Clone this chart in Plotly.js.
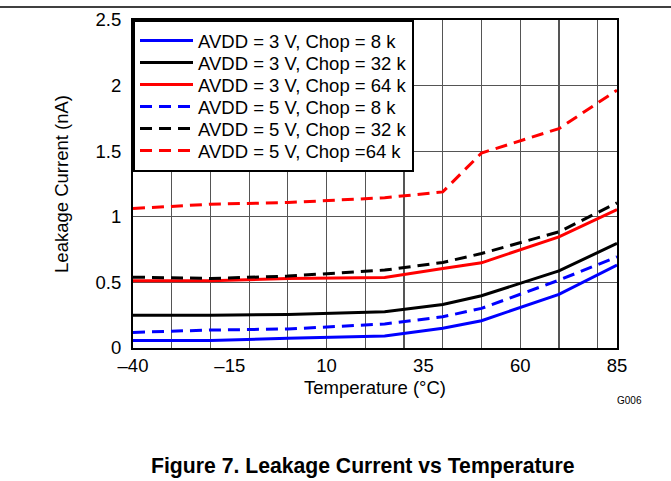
<!DOCTYPE html>
<html>
<head>
<meta charset="utf-8">
<script src="https://cdn.plot.ly/plotly-3.0.1.min.js"></script>
<style>
  html, body { margin: 0; padding: 0; background: #fff; }
  #chart { width: 671px; height: 481px; }
</style>
</head>
<body>
<div id="chart"></div>
<script>
// Temperature (°C)
const temps = [-40, -20, 0, 25, 40, 50, 70, 85];

// Leakage current (nA)
const avdd3_chop8  = [0.058, 0.058, 0.074, 0.091, 0.150, 0.208, 0.409, 0.632];
const avdd3_chop32 = [0.249, 0.249, 0.256, 0.276, 0.332, 0.398, 0.588, 0.797];
const avdd3_chop64 = [0.512, 0.512, 0.530, 0.538, 0.606, 0.649, 0.847, 1.055];
const avdd5_chop8  = [0.119, 0.137, 0.145, 0.183, 0.238, 0.302, 0.517, 0.695];
const avdd5_chop32 = [0.540, 0.530, 0.548, 0.594, 0.652, 0.720, 0.885, 1.106];
const avdd5_chop64 = [1.063, 1.096, 1.109, 1.145, 1.190, 1.486, 1.672, 1.965];

const seriesNames = [
  'AVDD = 3 V, Chop = 8 k',
  'AVDD = 3 V, Chop = 32 k',
  'AVDD = 3 V, Chop = 64 k',
  'AVDD = 5 V, Chop = 8 k',
  'AVDD = 5 V, Chop = 32 k',
  'AVDD = 5 V, Chop =64 k'
];

const xTickVals = [-40, -15, 10, 35, 60, 85];
const xTickText = ['\u201340', '\u201315', '10', '35', '60', '85'];
const xGridVals = [-30, -20, -10, 0, 10, 20, 30, 40, 50, 60, 70, 80];

const seriesData = [avdd3_chop8, avdd3_chop32, avdd3_chop64, avdd5_chop8, avdd5_chop32, avdd5_chop64];
const colors = ['#0000ff', '#000000', '#ff0000', '#0000ff', '#000000', '#ff0000'];
const dashes = ['solid', 'solid', 'solid', '12px,7px', '12px,7px', '12px,7px'];

const traces = seriesData.map((ys, i) => ({
  x: temps,
  y: ys,
  name: seriesNames[i],
  type: 'scatter',
  mode: 'lines',
  line: { color: colors[i], width: 3, dash: dashes[i] }
}));

const FONT = 'Liberation Sans, Arial, sans-serif';
const FS = 18.5;
const LEGEND_ROW = 22;

const layout = {
  width: 671,
  height: 481,
  margin: { l: 133, r: 54, t: 20, b: 133 },
  paper_bgcolor: '#ffffff',
  plot_bgcolor: '#ffffff',
  font: { family: FONT, size: FS, color: '#000' },
  showlegend: true,
  legend: {
    x: 0, y: 1, xanchor: 'left', yanchor: 'top',
    bgcolor: '#ffffff',
    bordercolor: '#000000',
    borderwidth: 2,
    font: { family: FONT, size: FS, color: '#000' },
    itemwidth: 53,
    tracegroupgap: 0
  },
  xaxis: {
    range: [-40, 85],
    tickmode: 'array',
    tickvals: xTickVals,
    ticktext: xTickText,
    showgrid: false,
    zeroline: false,
    showline: true,
    mirror: true,
    linecolor: '#000',
    linewidth: 2,
    ticks: '',
    tickfont: { family: FONT, size: FS },
    minor: {
      tickmode: 'array',
      tickvals: xGridVals,
      showgrid: true,
      gridcolor: '#555555',
      gridwidth: 1.2,
      ticks: ''
    },
    title: { text: 'Temperature (°C)', font: { family: FONT, size: FS }, standoff: 6 }
  },
  yaxis: {
    range: [0, 2.5],
    tickmode: 'linear',
    tick0: 0,
    dtick: 0.5,
    showgrid: true,
    gridcolor: '#555555',
    gridwidth: 1.2,
    zeroline: false,
    showline: true,
    mirror: true,
    linecolor: '#000',
    linewidth: 2,
    ticks: '',
    ticklabelstandoff: 6,
    tickfont: { family: FONT, size: FS },
    title: { text: 'Leakage Current (nA)', font: { family: FONT, size: FS }, standoff: 22 }
  },
  shapes: [
    {
      type: 'line', xref: 'paper', yref: 'paper',
      x0: -0.3, x1: 1.2, y0: 1.0396, y1: 1.0396,
      line: { color: '#000', width: 1.5 }
    }
  ],
  annotations: [
    {
      text: 'G006', xref: 'paper', yref: 'paper',
      x: 1.0248, y: -0.159, xanchor: 'center', yanchor: 'middle',
      showarrow: false, font: { family: FONT, size: 10, color: '#000' }
    },
    {
      text: '<b>Figure 7. Leakage Current vs Temperature</b>',
      xref: 'paper', yref: 'paper',
      x: 0.475, y: -0.360, xanchor: 'center', yanchor: 'middle',
      showarrow: false, font: { family: FONT, size: 21.2, color: '#000' }
    }
  ]
};

function tightenLegend() {
  const items = Array.from(document.querySelectorAll('.legend .traces'));
  if (items.length < 2) return;
  const parse = (g) => {
    const t = g.getAttribute('transform') || '';
    const m = t.match(/translate\(\s*([-\d.e]+)[ ,]+([-\d.e]+)\s*\)/);
    return m ? [parseFloat(m[1]), parseFloat(m[2])] : [0, 0];
  };
  const p0 = parse(items[0]);
  const p1 = parse(items[1]);
  const oldRow = p1[1] - p0[1];
  const shrink = (oldRow - LEGEND_ROW) * (items.length - 1);
  items.forEach((g, i) => {
    const p = parse(g);
    g.setAttribute('transform', 'translate(' + p[0] + ',' + (p0[1] + i * LEGEND_ROW) + ')');
  });
  const bg = document.querySelector('.legend .bg');
  if (bg) {
    const h = parseFloat(bg.getAttribute('height'));
    bg.setAttribute('height', h - shrink);
  }
}

Plotly.newPlot('chart', traces, layout, { displayModeBar: false, staticPlot: true }).then(tightenLegend);
</script>
</body>
</html>
